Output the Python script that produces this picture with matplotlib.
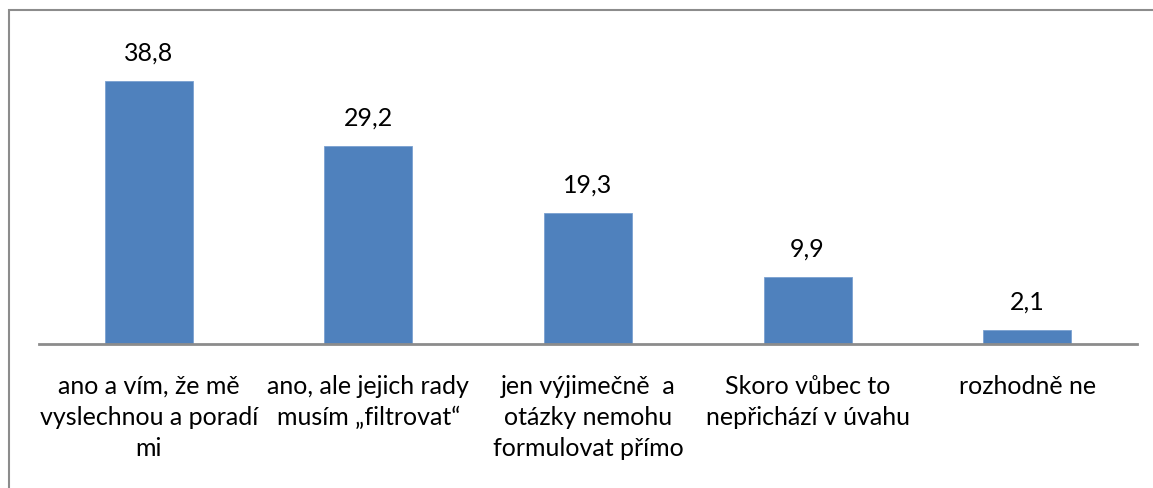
import matplotlib
matplotlib.use("Agg")
import matplotlib.pyplot as plt
from matplotlib.patches import Rectangle

categories = [
    "ano a vím, že mě\nvyslechnou a poradí\nmi",
    "ano, ale jejich rady\nmusím „filtrovat“",
    "jen výjimečně  a\notázky nemohu\nformulovat přímo",
    "Skoro vůbec to\nnepřichází v úvahu",
    "rozhodně ne",
]
values = [38.8, 29.2, 19.3, 9.9, 2.1]
value_labels = ["38,8", "29,2", "19,3", "9,9", "2,1"]

plt.rcParams['font.family'] = ['Lato', 'DejaVu Sans']

W, H = 1153, 488
fig = plt.figure(figsize=(W / 100, H / 100), dpi=100)

# chart frame (only left and top edges are in view)
fig.patches.append(Rectangle((9 / W, -0.1), 1.2, (H - 10) / H + 0.1,
                             transform=fig.transFigure, fill=False,
                             edgecolor='#8c8c8c', linewidth=1.5))

ax = fig.add_axes([39 / W, 144 / H, (1137 - 39) / W, (344 - 39) / H])
x = list(range(len(values)))
ax.bar(x, values, width=0.4, color='#4f81bd', edgecolor='#7aa0d0',
       linewidth=0.6)
ax.set_xlim(-0.5, len(values) - 0.5)
ax.set_ylim(0, 45)

for xi, v, lab in zip(x, values, value_labels):
    ax.annotate(lab, (xi, v), xytext=(0, 20), textcoords='offset points',
                ha='center', va='center', fontsize=18, color='black')

for spine in ['left', 'right', 'top']:
    ax.spines[spine].set_visible(False)
ax.spines['bottom'].set_color('#8c8c8c')
ax.spines['bottom'].set_linewidth(2)
ax.set_yticks([])
ax.set_xticks(x)
ax.set_xticklabels(categories, fontsize=18, linespacing=1.42, va='top')
ax.tick_params(axis='x', length=0, pad=22)

fig.savefig("out.png", dpi=100)
